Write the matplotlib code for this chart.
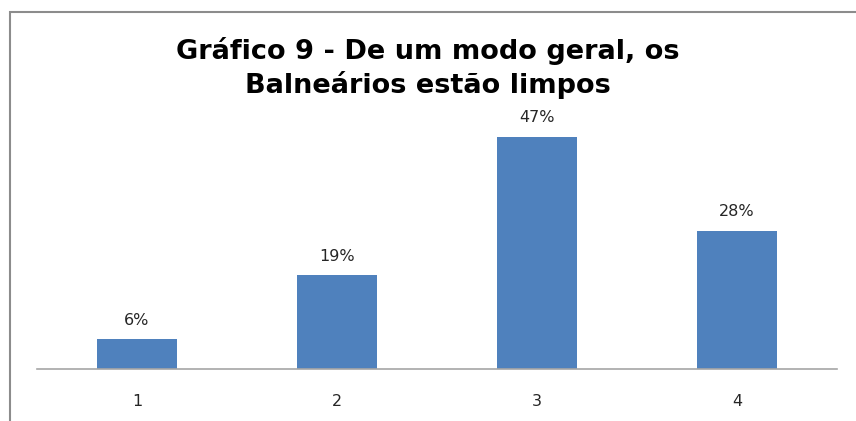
import matplotlib.pyplot as plt
from matplotlib.patches import Rectangle

categories = ["1", "2", "3", "4"]
values = [6, 19, 47, 28]
labels = ["6%", "19%", "47%", "28%"]

W, H = 856, 421
fig = plt.figure(figsize=(W / 100, H / 100), dpi=100)

# outer chart border (cut off at right/bottom like the screenshot)
fig.patches.append(Rectangle((10 / W, -0.1), 1.2, (H - 12) / H + 0.1,
                             transform=fig.transFigure, fill=False,
                             edgecolor="#8c8c8c", linewidth=1.5))

ax = fig.add_axes([37 / W, 52 / H, 800 / W, 247 / H])
x = range(len(categories))
ax.bar(x, values, width=0.4, color="#4F81BD")
for xi, v, lab in zip(x, values, labels):
    ax.text(xi, v + 2.3, lab, ha="center", va="bottom", fontsize=11.5,
            color="#262626", family="DejaVu Sans")

ax.set_xlim(-0.5, 3.5)
ax.set_ylim(0, 50)
ax.set_yticks([])
ax.set_xticks(list(x))
ax.set_xticklabels(categories, fontsize=11.5, color="#262626", family="DejaVu Sans")
ax.tick_params(axis="x", length=0, pad=18)
for s in ["top", "right", "left"]:
    ax.spines[s].set_visible(False)
ax.spines["bottom"].set_color("#a6a6a6")
ax.spines["bottom"].set_linewidth(1.2)

fig.text(428 / W, 1 - 68 / H, "Gráfico 9 - De um modo geral, os\nBalneários estão limpos",
         ha="center", va="center", fontsize=19.5, fontweight="bold",
         family="DejaVu Sans", linespacing=1.3)

fig.savefig("out.png", dpi=100)
